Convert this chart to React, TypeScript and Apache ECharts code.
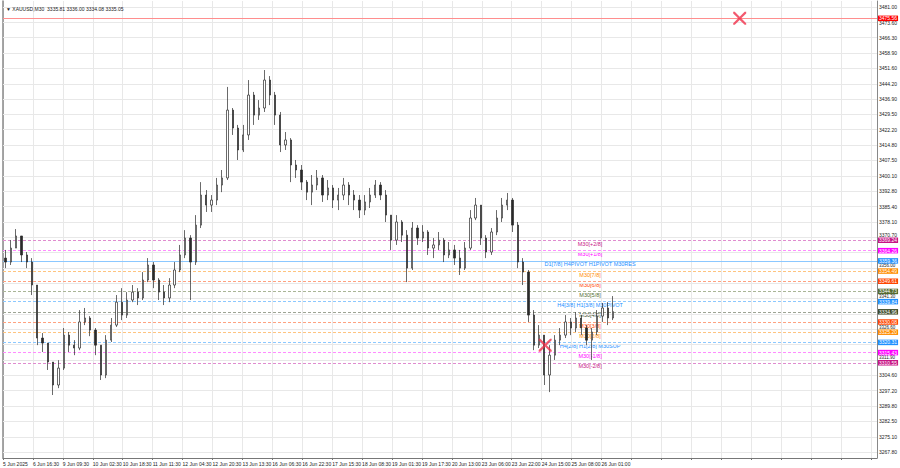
import { useEffect, useRef } from "react";
import * as echarts from "echarts";

// ---- header ----
const symbolName = "XAUUSD,M30";
const headerOHLC = ["3335.81", "3336.00", "3334.08", "3335.05"];

// ---- candles (H3 aggregation of the M30 chart; x = M30 bar index) ----
const barsPerCandle = 6;
const firstOpen = 3360.7;
const closes = [
  3358.8, 3365.5, 3371.3, 3362.2, 3358.8, 3347.8, 3322.4, 3320.0, 3310.9, 3299.9,
  3308.0, 3323.8, 3319.0, 3317.6, 3330.1, 3332.0, 3326.2, 3319.0, 3304.7, 3321.4,
  3328.6, 3339.6, 3333.4, 3340.6, 3344.4, 3341.6, 3350.2, 3357.4, 3350.2, 3344.4,
  3341.6, 3347.8, 3355.0, 3362.2, 3370.3, 3358.8, 3376.5, 3390.9, 3386.1, 3388.5,
  3395.7, 3399.1, 3431.6, 3423.0, 3412.5, 3419.7, 3438.8, 3429.2, 3432.6, 3446.0,
  3438.8, 3429.2, 3414.9, 3417.3, 3405.3, 3402.9, 3397.1, 3392.3, 3395.7, 3399.1,
  3390.9, 3394.3, 3388.5, 3390.9, 3395.7, 3390.9, 3388.5, 3383.7, 3387.6, 3390.9,
  3395.7, 3390.9, 3381.3, 3369.3, 3378.0, 3371.7, 3355.9, 3375.1, 3370.3, 3373.2,
  3365.5, 3367.0, 3369.3, 3362.2, 3364.6, 3360.7, 3355.9, 3365.5, 3379.9, 3386.1,
  3370.3, 3363.6, 3373.2, 3379.9, 3386.1, 3388.5, 3376.5, 3358.8, 3354.0, 3333.4,
  3319.0, 3323.8, 3304.7, 3314.2, 3321.4, 3323.8, 3330.1, 3327.2, 3332.0, 3327.2,
  3321.4, 3325.3, 3332.9, 3336.8, 3332.0, 3335.05,
];
const highs = [
  3364.6, 3369.3, 3374.6, 3371.3, 3363.6, 3360.7, 3347.8, 3324.8, 3320.0, 3310.9,
  3311.8, 3327.2, 3325.3, 3321.4, 3335.8, 3336.8, 3332.9, 3327.2, 3319.0, 3323.8,
  3332.0, 3343.0, 3346.3, 3344.4, 3347.8, 3346.3, 3354.0, 3360.7, 3358.8, 3351.1,
  3347.8, 3351.1, 3358.8, 3367.0, 3374.1, 3371.7, 3381.3, 3397.1, 3393.3, 3390.9,
  3399.1, 3402.9, 3442.7, 3432.6, 3424.5, 3424.5, 3446.0, 3440.3, 3436.4, 3450.8,
  3447.9, 3440.3, 3430.7, 3421.1, 3418.2, 3407.7, 3405.3, 3398.1, 3400.5, 3402.9,
  3400.5, 3398.1, 3395.7, 3394.3, 3399.1, 3397.1, 3393.3, 3390.9, 3390.9, 3394.3,
  3398.1, 3397.1, 3393.3, 3381.3, 3381.3, 3378.9, 3374.1, 3378.0, 3376.5, 3376.5,
  3374.1, 3370.3, 3373.2, 3370.3, 3368.4, 3367.0, 3364.6, 3368.4, 3383.7, 3389.5,
  3386.1, 3371.7, 3375.1, 3383.7, 3389.5, 3391.9, 3389.5, 3378.0, 3360.7, 3355.0,
  3335.8, 3328.6, 3323.8, 3319.0, 3323.8, 3327.2, 3333.4, 3332.0, 3334.8, 3333.4,
  3328.6, 3327.2, 3335.8, 3339.2, 3339.6, 3342.5,
];
const lows = [
  3355.9, 3357.4, 3365.5, 3358.8, 3355.9, 3343.0, 3319.0, 3315.7, 3307.1, 3295.1,
  3298.4, 3307.1, 3315.7, 3314.2, 3316.6, 3328.6, 3323.3, 3314.2, 3302.3, 3303.2,
  3320.5, 3327.7, 3331.0, 3332.0, 3339.6, 3338.2, 3340.6, 3349.2, 3346.3, 3340.6,
  3338.2, 3339.6, 3346.3, 3354.0, 3360.7, 3340.6, 3357.4, 3375.1, 3382.8, 3382.8,
  3386.1, 3392.3, 3398.1, 3419.7, 3407.7, 3411.5, 3417.3, 3424.5, 3426.9, 3430.7,
  3434.0, 3424.5, 3411.5, 3412.5, 3397.1, 3399.1, 3393.3, 3388.5, 3386.1, 3393.3,
  3387.6, 3388.5, 3384.7, 3383.7, 3388.5, 3386.1, 3383.7, 3379.9, 3381.3, 3384.7,
  3389.5, 3388.5, 3378.0, 3364.6, 3367.0, 3368.4, 3349.2, 3355.0, 3367.0, 3368.4,
  3362.2, 3360.7, 3364.6, 3358.8, 3360.7, 3357.4, 3352.6, 3355.0, 3364.6, 3378.9,
  3367.0, 3360.7, 3362.2, 3371.7, 3378.0, 3383.7, 3373.2, 3355.9, 3347.8, 3330.1,
  3316.6, 3317.6, 3299.9, 3296.5, 3311.9, 3319.0, 3322.4, 3323.8, 3325.3, 3323.8,
  3319.0, 3311.9, 3323.8, 3330.1, 3328.6, 3331.0,
];

// ---- axes ----
const timeLabels = [
  "5 Jun 2025", "6 Jun 16:30", "9 Jun 09:30", "10 Jun 02:30", "10 Jun 18:30",
  "11 Jun 11:30", "12 Jun 04:30", "12 Jun 20:30", "13 Jun 13:30", "16 Jun 06:30",
  "16 Jun 22:30", "17 Jun 15:30", "18 Jun 08:30", "19 Jun 01:30", "19 Jun 17:30",
  "20 Jun 13:00", "23 Jun 06:00", "23 Jun 22:00", "24 Jun 15:00", "25 Jun 08:00",
  "26 Jun 01:00",
];
const barsPerTimeLabel = 34;
const xMaxBars = 993;
const priceTicks = [
  3481.0, 3473.6, 3466.3, 3458.9, 3451.6, 3444.2, 3436.9, 3429.5, 3422.2, 3414.8,
  3407.5, 3400.1, 3392.8, 3385.4, 3378.1, 3370.7, 3363.3, 3356.0, 3348.7, 3341.3,
  3334.0, 3326.6, 3319.2, 3311.9, 3304.6, 3297.2, 3289.8, 3282.5, 3275.1, 3267.8,
];
const yMin = 3264.93;
const yMax = 3483.87;

// ---- levels ----
const alertPrice = 3475.56;
const levelPrices = [
  3369.24, 3364.26, 3359.36, 3354.49, 3349.61, 3344.73, 3339.84,
  3334.96, 3330.08, 3325.2, 3320.31, 3315.43, 3310.55,
];
const levelNames = [
  "M30[+2/8]", "M30[+1/8]", "D1[7/8] H4PIVOT H1PIVOT M30RES", "M30[7/8]", "M30[6/8]",
  "M30[5/8]", "H4[3/8] H1[3/8] M30PIVOT", "M30[4/8]", "M30[3/8]", "M30[2/8]",
  "H4[2/8] H1[2/8] M30SUP", "M30[-1/8]", "M30[-2/8]",
];
const levelTextBar = 667;

// ---- cross markers ----
const crossBars = [837, 616];
const crossPrices = [3475.56, 3319.0];

// styles (kept apart from data)
const levelColors = [
  "#c71585", "#ff00ff", "#1e90ff", "#ff8c00", "#ff4500", "#556b2f", "#1e90ff",
  "#3c4a28", "#ff4500", "#ff8c00", "#1e90ff", "#ff00ff", "#c71585",
];
const levelLineColors = [
  "#e08ccf", "#ff8cff", "#8cc8ff", "#ffc47f", "#ffa27f", "#aab597", "#8cc8ff",
  "#9da494", "#ffa27f", "#ffc47f", "#8cc8ff", "#ff8cff", "#e08ccf",
];
const levelDashed = [true, true, false, true, true, true, true, true, true, true, true, true, true];
const FONT = "Liberation Sans";
const GRID_TOP = 1;
const GRID_BOTTOM = 10;
const CHART_H = 468;

export default function App() {
  const ref = useRef<HTMLDivElement>(null);

  useEffect(() => {
    if (!ref.current) return;
    const chart = echarts.init(ref.current, null, { renderer: "svg" });

    const candles = closes.map((c, i) => [
      i * barsPerCandle + barsPerCandle / 2,
      i === 0 ? firstOpen : closes[i - 1],
      c,
      lows[i],
      highs[i],
    ]);

    // keep axis tick labels clear of the coloured price boxes
    const pxPerPrice = (CHART_H - GRID_TOP - GRID_BOTTOM) / (yMax - yMin);
    const clearPx = 5.1;
    const allLevels = [alertPrice, ...levelPrices].sort((a, b) => a - b);
    const gridLines = priceTicks.map((v) => {
      let nearest = Infinity;
      allLevels.forEach((p) => (nearest = Math.min(nearest, Math.abs(p - v))));
      const hidden = nearest < 1.2;
      let offsetY = 0;
      let fontSize = 5;
      if (!hidden && nearest < 2.4) {
        const below = allLevels.filter((p) => p <= v).pop();
        const above = allLevels.find((p) => p > v);
        let target = v;
        if (below !== undefined && above !== undefined && above - below < 6) {
          target = (below + above) / 2;
          fontSize = 4.5;
        } else if (below !== undefined && v - below < 2.4) {
          target = below + clearPx / pxPerPrice;
        } else if (above !== undefined) {
          target = above - clearPx / pxPerPrice;
        }
        offsetY = -(target - v) * pxPerPrice;
      }
      return {
        yAxis: v,
        label: { show: !hidden, formatter: v.toFixed(2), offset: [0, offsetY], fontSize },
      };
    });

    const levelLines = [
      {
        yAxis: alertPrice,
        lineStyle: { color: "#ff8e8e", type: "solid", width: 1 },
        label: { formatter: alertPrice.toFixed(2), backgroundColor: "#ff0000" },
      },
      ...levelPrices.map((p, i) => ({
        yAxis: p,
        lineStyle: {
          color: levelLineColors[i],
          type: levelDashed[i] ? [3, 2] : "solid",
          width: 1,
        },
        label: { formatter: p.toFixed(2), backgroundColor: levelColors[i] },
      })),
    ];

    const xPath =
      "path://M0,0 L1.2,0 L5,3.8 L8.8,0 L10,0 L10,1.2 L6.2,5 L10,8.8 L10,10 L8.8,10 L5,6.2 L1.2,10 L0,10 L0,8.8 L3.8,5 L0,1.2 Z";

    chart.setOption({
      animation: false,
      backgroundColor: "#ffffff",
      textStyle: { fontFamily: FONT },
      title: {
        text: "▼ " + symbolName + "  " + headerOHLC.join(" "),
        left: 1,
        top: 1,
        textStyle: { fontSize: 5, fontWeight: "normal", color: "#222", fontFamily: FONT },
      },
      grid: { left: 1, right: 23, top: GRID_TOP, bottom: GRID_BOTTOM, containLabel: false },
      xAxis: {
        type: "value",
        min: 0,
        max: xMaxBars,
        interval: barsPerTimeLabel,
        axisLine: { show: true, lineStyle: { color: "#777", width: 1 } },
        axisTick: { show: true, length: 2, lineStyle: { color: "#777" } },
        splitLine: { show: true, lineStyle: { color: "#e8e8e8", width: 1 } },
        axisLabel: {
          show: true,
          fontSize: 5,
          color: "#222",
          fontFamily: FONT,
          align: "left",
          margin: 3,
          showMaxLabel: false,
          formatter: (v: number) => {
            const k = v / barsPerTimeLabel;
            if (Math.abs(k - Math.round(k)) > 1e-6) return "";
            return timeLabels[Math.round(k)] ?? "";
          },
        },
      },
      yAxis: [
        {
          type: "value",
          min: yMin,
          max: yMax,
          axisLine: { show: true, lineStyle: { color: "#888", width: 1.5 } },
          axisTick: { show: false },
          axisLabel: { show: false },
          splitLine: { show: false },
        },
        {
          type: "value",
          min: yMin,
          max: yMax,
          position: "right",
          axisLine: { show: true, lineStyle: { color: "#888", width: 1 } },
          axisTick: { show: false },
          axisLabel: { show: false },
          splitLine: { show: false },
        },
      ],
      series: [
        {
          type: "line",
          data: [],
          z: 1,
          silent: true,
          markLine: {
            silent: true,
            symbol: "none",
            animation: false,
            lineStyle: { color: "#e8e8e8", type: "solid", width: 1 },
            label: {
              position: "end",
              distance: 2,
              fontSize: 5,
              lineHeight: 5,
              color: "#222",
              fontFamily: FONT,
            },
            data: gridLines,
          },
        },
        {
          type: "line",
          data: [],
          z: 2,
          silent: true,
          markLine: {
            silent: true,
            symbol: "none",
            animation: false,
            label: {
              position: "end",
              distance: 1,
              fontSize: 5,
              lineHeight: 5,
              color: "#ffffff",
              padding: [0.5, 1, 0, 1],
              fontFamily: FONT,
            },
            data: levelLines,
          },
        },
        {
          type: "scatter",
          z: 3,
          silent: true,
          symbolSize: 1,
          itemStyle: { color: "rgba(0,0,0,0)" },
          label: {
            show: true,
            position: "bottom",
            distance: 0,
            fontSize: 5.5,
            opacity: 1,
            fontFamily: FONT,
            formatter: (p: any) => p.data.name,
          },
          data: levelPrices.map((p, i) => ({
            value: [levelTextBar, p],
            name: levelNames[i],
            label: { color: levelColors[i] },
          })),
        },
        {
          type: "candlestick",
          z: 5,
          barWidth: 1.8,
          itemStyle: {
            color: "#ffffff",
            color0: "#2a2a2a",
            borderColor: "#2a2a2a",
            borderColor0: "#2a2a2a",
            borderWidth: 0.7,
          },
          data: candles,
        },
        {
          type: "scatter",
          z: 6,
          silent: true,
          symbol: xPath,
          symbolSize: 13,
          itemStyle: { color: "#f0304a" },
          data: crossBars.map((b, i) => [b, crossPrices[i]]),
        },
      ],
    });

    return () => chart.dispose();
  }, []);

  return (
    <div
      ref={ref}
      style={{ position: "fixed", left: 0, top: 0, width: 900, height: 468, background: "#fff" }}
    />
  );
}
